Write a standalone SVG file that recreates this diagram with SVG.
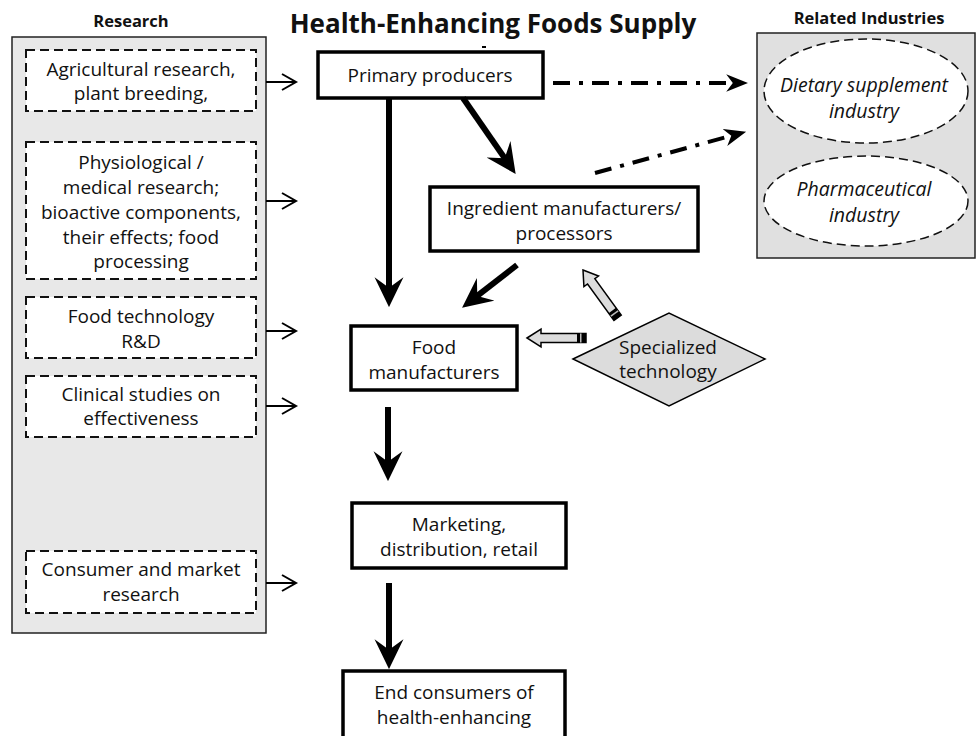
<svg xmlns="http://www.w3.org/2000/svg" xmlns:xlink="http://www.w3.org/1999/xlink" width="977" height="736" viewBox="0 0 977 736">
<style>
text{font-family:"Open Sans","Liberation Sans",sans-serif;fill:#111;text-anchor:middle}
.t{font-size:19px}
.hdr{font-size:16.5px;font-weight:bold}
.it{font-size:19.5px;font-style:italic}
.panel{fill:#e8e8e8;stroke:#222;stroke-width:1.5}
.rbox{fill:#fff;stroke:#111;stroke-width:2;stroke-dasharray:9 5}
.node{fill:#fff;stroke:#000;stroke-width:3.5}
.ell{fill:#fff;stroke:#111;stroke-width:1.5;stroke-dasharray:9 5}
.thick{stroke:#000;stroke-width:6;fill:none}
.dd{stroke:#000;stroke-width:4;fill:none;stroke-dasharray:17 9 4 9}
.thin{stroke:#000;stroke-width:2;fill:none}
</style>
<defs>
<marker id="bigHead" markerUnits="userSpaceOnUse" markerWidth="30" markerHeight="30" viewBox="0 0 28 27" refX="12" refY="13.5" orient="auto">
<path d="M0,0 L28,13.5 L0,27 L10,13.5 z" fill="#000"/>
</marker>
<marker id="ddHead" markerUnits="userSpaceOnUse" markerWidth="22" markerHeight="18" viewBox="0 0 20 16" refX="8" refY="8" orient="auto">
<path d="M0,0 L20,8 L0,16 L6,8 z" fill="#000"/>
</marker>
<g id="hollow">
<path d="M0,0 L14,-9 L14,-4.5 L59,-4.5 L59,4.5 L14,4.5 L14,9 z" fill="#dcdcdc" stroke="#000" stroke-width="1.5" stroke-linejoin="miter"/>
<rect x="50" y="-4.5" width="9" height="9" fill="#000"/>
<rect x="53" y="-4.5" width="1.5" height="9" fill="#bbb"/>
</g>
</defs>

<text x="493" y="33" style="font-size:26px;font-weight:bold">Health-Enhancing Foods Supply</text>
<rect x="482" y="46" width="4" height="2" fill="#000"/>

<g id="research-panel">
<text class="hdr" x="131" y="27">Research</text>
<rect class="panel" x="12" y="37" width="254" height="596"/>
</g>
<g id="r-agri">
<rect class="rbox" x="26" y="50" width="230" height="61"/>
<text class="t" x="141" y="76">Agricultural research,</text>
<text class="t" x="141" y="100">plant breeding,</text>
</g>
<g id="r-phys">
<rect class="rbox" x="26" y="142" width="230" height="137"/>
<text class="t" x="141" y="169">Physiological /</text>
<text class="t" x="141" y="194">medical research;</text>
<text class="t" x="141" y="219">bioactive components,</text>
<text class="t" x="141" y="244">their effects; food</text>
<text class="t" x="141" y="268">processing</text>
</g>
<g id="r-foodtech">
<rect class="rbox" x="26" y="297" width="230" height="61"/>
<text class="t" x="141" y="323">Food technology</text>
<text class="t" x="141" y="348">R&amp;D</text>
</g>
<g id="r-clinical">
<rect class="rbox" x="26" y="376" width="230" height="61"/>
<text class="t" x="141" y="401">Clinical studies on</text>
<text class="t" x="141" y="425">effectiveness</text>
</g>
<g id="r-consumer">
<rect class="rbox" x="26" y="551" width="230" height="62"/>
<text class="t" x="141" y="576">Consumer and market</text>
<text class="t" x="141" y="601">research</text>
</g>

<g id="related-panel">
<text class="hdr" x="869" y="24">Related Industries</text>
<rect class="panel" x="757" y="33" width="218" height="225" style="fill:#e0e0e0"/>
</g>
<g id="dietary">
<ellipse class="ell" cx="866" cy="91" rx="102" ry="52"/>
<text class="it" x="864" y="92">Dietary supplement</text>
<text class="it" x="864" y="118">industry</text>
</g>
<g id="pharma">
<ellipse class="ell" cx="866" cy="201" rx="102" ry="45"/>
<text class="it" x="864" y="196">Pharmaceutical</text>
<text class="it" x="864" y="222">industry</text>
</g>

<g id="primary">
<rect class="node" x="318" y="52" width="225" height="46"/>
<text class="t" x="430" y="82">Primary producers</text>
</g>
<g id="ingredient">
<rect class="node" x="430" y="187" width="268" height="64"/>
<text class="t" x="564" y="215">Ingredient manufacturers/</text>
<text class="t" x="564" y="240">processors</text>
</g>
<g id="food">
<rect class="node" x="351" y="326" width="166" height="64"/>
<text class="t" x="434" y="354">Food</text>
<text class="t" x="434" y="379">manufacturers</text>
</g>
<g id="marketing">
<rect class="node" x="352" y="503" width="214" height="65"/>
<text class="t" x="459" y="531">Marketing,</text>
<text class="t" x="459" y="556">distribution, retail</text>
</g>
<g id="end">
<rect class="node" x="343" y="671" width="222" height="70"/>
<text class="t" x="454" y="699">End consumers of</text>
<text class="t" x="454" y="724">health-enhancing</text>
</g>
<g id="spectech">
<polygon points="573,359 669,313 765,359 669,406" fill="#dcdcdc" stroke="#000" stroke-width="1.5"/>
<text x="668" y="354" style="font-size:19px">Specialized</text>
<text x="668" y="378" style="font-size:19px">technology</text>
</g>

<g id="connectors">
<path class="thin" d="M266,82 H296 M282,74 L296,82 L282,90"/>
<path class="thin" d="M266,201 H296 M282,193 L296,201 L282,209"/>
<path class="thin" d="M266,331 H296 M282,323 L296,331 L282,339"/>
<path class="thin" d="M266,406 H296 M282,398 L296,406 L282,414"/>
<path class="thin" d="M266,583 H296 M282,575 L296,583 L282,591"/>

<line class="thick" x1="389" y1="98" x2="389" y2="290" marker-end="url(#bigHead)"/>
<line class="thick" x1="463" y1="98" x2="505.9" y2="159.9" marker-end="url(#bigHead)"/>
<line class="thick" x1="517" y1="265" x2="475.6" y2="297.2" marker-end="url(#bigHead)"/>
<line class="thick" x1="388" y1="407" x2="388" y2="464" marker-end="url(#bigHead)"/>
<line class="thick" x1="389" y1="583" x2="389" y2="652" marker-end="url(#bigHead)"/>

<line class="dd" x1="553" y1="83" x2="735" y2="83" marker-end="url(#ddHead)"/>
<line class="dd" x1="595" y1="173" x2="733.4" y2="135.2" marker-end="url(#ddHead)"/>

<use xlink:href="#hollow" transform="translate(527,338)"/>
<use xlink:href="#hollow" transform="translate(583,270) rotate(54.1)"/>
</g>
</svg>
